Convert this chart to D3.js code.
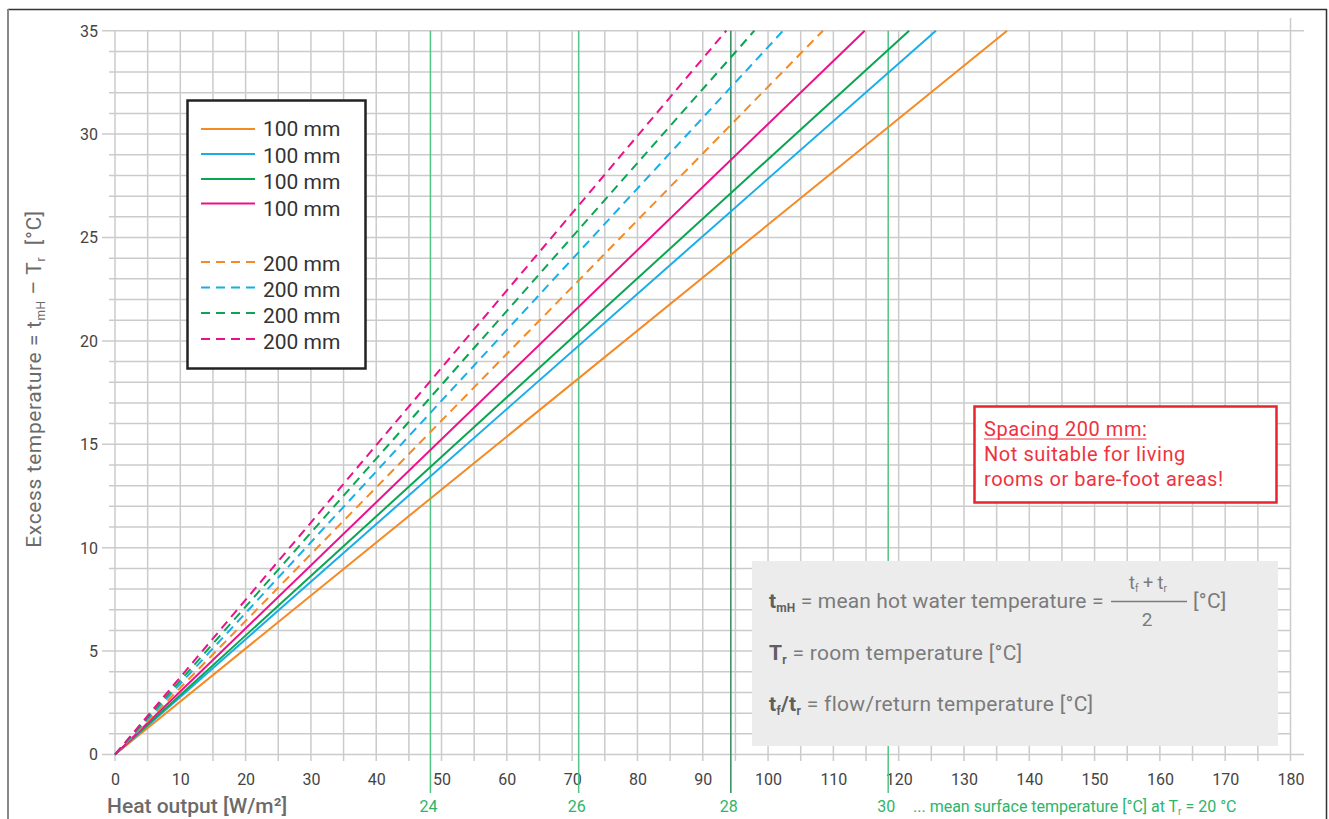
<!DOCTYPE html>
<html>
<head>
<meta charset="utf-8">
<script src="https://cdn.jsdelivr.net/npm/d3@7"></script>
<style>
  html, body { margin: 0; padding: 0; background: #fff; }
  svg { display: block; font-family: Roboto, "Noto Sans", sans-serif; }
</style>
</head>
<body>
<svg id="chart" width="1329" height="819"></svg>
<script>
// ---------------- data ----------------
const seriesLabels = ["100 mm", "100 mm", "100 mm", "100 mm", "200 mm", "200 mm", "200 mm", "200 mm"];
const seriesDashed = [false, false, false, false, true, true, true, true];
// excess temperature points [K] at which heat output is read
const excessTemp = [0, 35];
// heat output [W/m²] at those excess temperatures
const orange100 = [0, 136.6];
const blue100 = [0, 125.7];
const green100 = [0, 121.6];
const magenta100 = [0, 114.8];
const orange200 = [0, 108.4];
const blue200 = [0, 102.3];
const green200 = [0, 97.9];
const magenta200 = [0, 93.6];
const seriesValues = [orange100, blue100, green100, magenta100, orange200, blue200, green200, magenta200];

const xTicks = [0, 10, 20, 30, 40, 50, 60, 70, 80, 90, 100, 110, 120, 130, 140, 150, 160, 170, 180];
const yTicks = [0, 5, 10, 15, 20, 25, 30, 35];
// mean surface temperature markers (°C) and heat output where they sit
const surfaceTempLabels = ["24", "26", "28", "30"];
const surfaceTempHeat = [48.3, 71.0, 94.3, 118.4];

// ---------------- styles ----------------
const seriesColors = ["#f58a25", "#1aaee9", "#0aa552", "#ec118b", "#f58a25", "#1aaee9", "#0aa552", "#ec118b"];
const gridColor = "#cbcbcb";

const svg = d3.select("#chart");

const x = d3.scaleLinear().domain([0, 180]).range([115, 1290.5]);
const y = d3.scaleLinear().domain([0, 35]).range([754.5, 30.7]);

// frame
svg.append("line").attr("x1", 8).attr("x2", 1327).attr("y1", 9.5).attr("y2", 9.5)
  .attr("stroke", "#333").attr("stroke-width", 1.5);
svg.append("line").attr("x1", 8).attr("x2", 8).attr("y1", 9).attr("y2", 819)
  .attr("stroke", "#888").attr("stroke-width", 2);
svg.append("line").attr("x1", 1326.5).attr("x2", 1326.5).attr("y1", 9).attr("y2", 819)
  .attr("stroke", "#333").attr("stroke-width", 1.5);

// grid
const grid = svg.append("g");
const vGrid = d3.range(0, 181, 5);
grid.selectAll("line.v").data(vGrid).join("line")
  .attr("x1", d => x(d)).attr("x2", d => x(d))
  .attr("y1", d => d === 180 ? 18 : y(35))
  .attr("y2", 761)
  .attr("stroke", gridColor).attr("stroke-width", 1.5);
const hGrid = d3.range(0, 36, 1);
grid.selectAll("line.h").data(hGrid).join("line")
  .attr("x1", d => d % 5 === 0 ? 102 : 109)
  .attr("x2", d => (d === 0 || d === 35) ? 1304 : x(180))
  .attr("y1", d => y(d)).attr("y2", d => y(d))
  .attr("stroke", gridColor).attr("stroke-width", 1.5);

// axes (labels via d3 axes, domain/ticks hidden since grid draws them)
const xAxis = svg.append("g").attr("transform", `translate(0,${y(0)})`)
  .call(d3.axisBottom(x).tickValues(xTicks).tickSize(0).tickPadding(24));
xAxis.select(".domain").remove();
xAxis.selectAll("text").attr("font-family", "Roboto").attr("font-size", 16).attr("fill", "#444")
  .attr("dy", 0).attr("y", 30.5);

const yAxis = svg.append("g").attr("transform", `translate(115,0)`)
  .call(d3.axisLeft(y).tickValues(yTicks).tickSize(0).tickPadding(17));
yAxis.select(".domain").remove();
yAxis.selectAll("text").attr("font-family", "Roboto").attr("font-size", 16).attr("fill", "#444")
  .attr("dy", "0.34em");

// surface temperature lines
const surf = svg.append("g");
surfaceTempHeat.forEach((h, i) => {
  surf.append("line").attr("x1", x(h)).attr("x2", x(h)).attr("y1", y(35)).attr("y2", 793)
    .attr("stroke", i === 2 ? "#2f8a5a" : "#52c486").attr("stroke-width", 1.5);
  surf.append("text").attr("x", x(h) - 2).attr("y", 812).attr("text-anchor", "middle")
    .attr("font-size", 16).attr("fill", "#2db46a").text(surfaceTempLabels[i]);
});
const st = surf.append("text").attr("x", 913).attr("y", 812).attr("font-size", 16).attr("fill", "#2db46a");
st.append("tspan").text("... mean surface temperature [°C] at T");
st.append("tspan").attr("font-size", 10).attr("dy", 3).text("r");
st.append("tspan").attr("dy", -3).text(" = 20 °C");

// series lines
const lineGen = d3.line().x(d => x(d[0])).y(d => y(d[1]));
seriesValues.forEach((vals, i) => {
  const pts = vals.map((v, j) => [v, excessTemp[j]]);
  svg.append("path").datum(pts)
    .attr("d", lineGen)
    .attr("fill", "none")
    .attr("stroke", seriesColors[i])
    .attr("stroke-width", 2)
    .attr("stroke-dasharray", seriesDashed[i] ? "9,6" : null);
});

// legend
const lg = svg.append("g");
lg.append("rect").attr("x", 187.5).attr("y", 100.5).attr("width", 178).attr("height", 268)
  .attr("fill", "#fff").attr("stroke", "#222").attr("stroke-width", 2.5);
const lineRows = [129, 154, 179, 203.5, 262, 287.5, 313, 339];
const textRows = [129, 155.5, 182, 208.5, 263.5, 289.5, 315.5, 342];
seriesLabels.forEach((lab, i) => {
  lg.append("line").attr("x1", 201).attr("x2", 255).attr("y1", lineRows[i]).attr("y2", lineRows[i])
    .attr("stroke", seriesColors[i]).attr("stroke-width", 2.2)
    .attr("stroke-dasharray", seriesDashed[i] ? "9,6" : null);
  lg.append("text").attr("x", 263).attr("y", textRows[i]).attr("dy", "0.35em")
    .attr("font-size", 21).attr("fill", "#333").text(lab);
});

// red warning box
const rb = svg.append("g");
rb.append("rect").attr("x", 974.5).attr("y", 406.5).attr("width", 302).attr("height", 96)
  .attr("fill", "#fff").attr("stroke", "#e8242f").attr("stroke-width", 2.5);
const redLines = ["Spacing 200 mm:", "Not suitable for living", "rooms or bare-foot areas!"];
const redBase = [436, 461, 486];
redLines.forEach((t, i) => {
  const tx = rb.append("text").attr("x", 984).attr("y", redBase[i]).attr("font-size", 20)
    .attr("letter-spacing", 0.55).attr("fill", "#ee3340").text(t);
  if (i === 0) {
    const w = tx.node().getComputedTextLength();
    rb.append("line").attr("x1", 984).attr("x2", 984 + w - 1).attr("y1", 439).attr("y2", 439)
      .attr("stroke", "#ee3340").attr("stroke-width", 1.2);
  }
});

// formula box
const fb = svg.append("g");
fb.append("rect").attr("x", 752).attr("y", 561).attr("width", 526).attr("height", 185).attr("fill", "#ececec");
const tc = "#7b7b7b", bc = "#5f5f5f";
const fs = 21, ls = 0.3;
const l1 = fb.append("text").attr("x", 769).attr("y", 608).attr("font-size", fs).attr("letter-spacing", 0.15).attr("fill", tc);
l1.append("tspan").attr("font-weight", 700).attr("fill", bc).text("t");
l1.append("tspan").attr("font-weight", 700).attr("fill", bc).attr("font-size", 12).attr("dy", 4).text("mH");
l1.append("tspan").attr("dy", -4).text(" = mean hot water temperature =");
fb.append("line").attr("x1", 1111).attr("x2", 1187).attr("y1", 601.5).attr("y2", 601.5)
  .attr("stroke", tc).attr("stroke-width", 1.3);
const num = fb.append("text").attr("x", 1148).attr("y", 589).attr("text-anchor", "middle")
  .attr("font-size", 18).attr("fill", tc);
num.append("tspan").text("t");
num.append("tspan").attr("font-size", 10).attr("dy", 3).text("f");
num.append("tspan").attr("dy", -3).text(" + t");
num.append("tspan").attr("font-size", 10).attr("dy", 3).text("r");
fb.append("text").attr("x", 1147).attr("y", 626).attr("text-anchor", "middle")
  .attr("font-size", 19).attr("fill", tc).text("2");
fb.append("text").attr("x", 1193).attr("y", 608).attr("font-size", fs).attr("letter-spacing", ls).attr("fill", tc).text("[°C]");

const l2 = fb.append("text").attr("x", 769).attr("y", 660).attr("font-size", fs).attr("letter-spacing", ls).attr("fill", tc);
l2.append("tspan").attr("font-weight", 700).attr("fill", bc).text("T");
l2.append("tspan").attr("font-weight", 700).attr("fill", bc).attr("font-size", 12).attr("dy", 4).text("r");
l2.append("tspan").attr("dy", -4).text(" = room temperature [°C]");

const l3 = fb.append("text").attr("x", 769).attr("y", 711).attr("font-size", fs).attr("letter-spacing", ls).attr("fill", tc);
l3.append("tspan").attr("font-weight", 700).attr("fill", bc).text("t");
l3.append("tspan").attr("font-weight", 700).attr("fill", bc).attr("font-size", 12).attr("dy", 4).text("f");
l3.append("tspan").attr("font-weight", 700).attr("fill", bc).attr("dy", -4).text("/t");
l3.append("tspan").attr("font-weight", 700).attr("fill", bc).attr("font-size", 12).attr("dy", 4).text("r");
l3.append("tspan").attr("dy", -4).text(" = flow/return temperature [°C]");

// axis titles
svg.append("text").attr("x", 107).attr("y", 813).attr("font-size", 21).attr("font-weight", 500)
  .attr("fill", "#6b6b6b").text("Heat output [W/m²]");
const yt = svg.append("text").attr("transform", "translate(41,379) rotate(-90)")
  .attr("text-anchor", "middle").attr("font-size", 21).attr("letter-spacing", 0.6).attr("fill", "#6b6b6b");
yt.append("tspan").text("Excess temperature = t");
yt.append("tspan").attr("font-size", 12).attr("dy", 4).text("mH");
yt.append("tspan").attr("dy", -4).text(" – T");
yt.append("tspan").attr("font-size", 12).attr("dy", 4).text("r");
yt.append("tspan").attr("dy", -4).text("\u00a0 [°C]");
</script>
</body>
</html>
